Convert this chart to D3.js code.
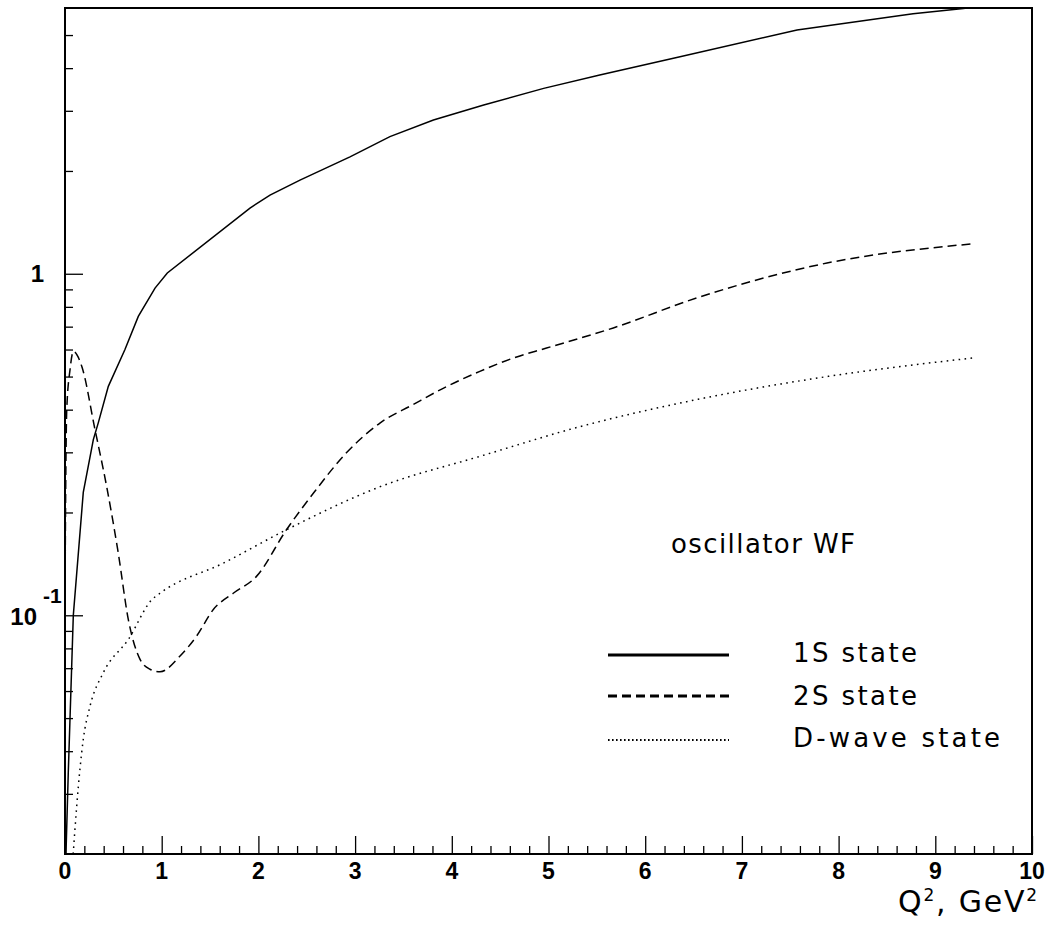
<!DOCTYPE html>
<html>
<head>
<meta charset="utf-8">
<script src="https://cdn.jsdelivr.net/npm/d3@7/dist/d3.min.js"></script>
<style>
  html, body { margin: 0; padding: 0; background: #fff; }
  svg { display: block; }
</style>
</head>
<body>
<svg id="chart" width="1050" height="930"></svg>
<script>
// Form factors vs Q^2 (GeV^2) for oscillator wave functions
const q2_1S  = [0.0, 0.01, 0.034, 0.086, 0.189, 0.293, 0.344, 0.448, 0.62, 0.758, 0.931, 1.058,
                1.913, 2.12, 2.43, 2.947, 3.36, 3.81, 4.33, 4.95, 5.53, 6.36, 7.57, 8.77, 9.29, 9.4];
const ff_1S  = [0.012, 0.02, 0.0347, 0.1, 0.229, 0.327, 0.366, 0.468, 0.6, 0.75, 0.908, 1.005,
                1.557, 1.70, 1.88, 2.20, 2.52, 2.82, 3.12, 3.49, 3.82, 4.32, 5.17, 5.77, 5.98, 6.04];

const q2_2S  = [0.0, 0.008, 0.018, 0.052, 0.086, 0.173, 0.31, 0.431, 0.551, 0.655, 0.776, 0.879, 0.982,
                1.19, 1.362, 1.534, 1.74, 1.98, 2.29, 2.57, 2.91, 3.26, 3.6, 3.95, 4.29, 4.64, 4.98,
                5.67, 6.53, 7.88, 9.39];
const ff_2S  = [0.11, 0.25, 0.40, 0.524, 0.592, 0.536, 0.35, 0.238, 0.152, 0.0971, 0.0743, 0.0695, 0.0683,
                0.076, 0.087, 0.104, 0.116, 0.130, 0.178, 0.228, 0.299, 0.366, 0.414, 0.468, 0.518, 0.567, 0.606,
                0.694, 0.849, 1.075, 1.224];

const q2_D   = [0.085, 0.121, 0.189, 0.259, 0.396, 0.655, 0.897, 0.982, 1.634, 2.29, 3.26, 4.29, 5.33,
                6.53, 7.88, 9.39];
const ff_D   = [0.02, 0.0276, 0.0433, 0.0542, 0.0679, 0.085, 0.111, 0.116, 0.142, 0.178, 0.238, 0.292, 0.357,
                0.428, 0.50, 0.567];

const xMajorTicks = d3.range(0, 11);
const xMinorTicks = d3.range(0, 50).map(i => i * 0.2).filter(v => Math.abs(v - Math.round(v)) > 1e-6);
const yMajorTicks = [0.1, 1];
const yMinorTicks = [0.03, 0.04, 0.05, 0.06, 0.07, 0.08, 0.09, 0.2, 0.3, 0.4, 0.5, 0.6, 0.7, 0.8, 0.9, 2, 3, 4, 5];

const legendTitle = "oscillator WF";
const seriesNames = ["1S state", "2S state", "D-wave state"];
const axisTitle = ["Q", "2", ", GeV", "2"];

const plot = { left: 65, right: 1032, top: 8, bottom: 854 };

const svg = d3.select("#chart");

const x = d3.scaleLinear().domain([0, 10]).range([plot.left, plot.right]);
const y = d3.scaleLog().domain([0.02, 6]).range([plot.bottom, plot.top]);

svg.append("defs").append("clipPath").attr("id", "plotClip")
  .append("rect")
  .attr("x", plot.left).attr("y", plot.top)
  .attr("width", plot.right - plot.left).attr("height", plot.bottom - plot.top);

// curves
const series = [
  { xs: q2_1S, ys: ff_1S, dash: null, curve: d3.curveLinear },
  { xs: q2_2S, ys: ff_2S, dash: "9,5", curve: d3.curveMonotoneX },
  { xs: q2_D,  ys: ff_D,  dash: "1.6,4.4", curve: d3.curveMonotoneX }
];

const curveLayer = svg.append("g").attr("clip-path", "url(#plotClip)");
series.forEach(s => {
  const pts = s.xs.map((v, i) => [v, s.ys[i]]);
  const line = d3.line().x(d => x(d[0])).y(d => y(d[1])).curve(s.curve);
  curveLayer.append("path")
    .attr("d", line(pts))
    .attr("fill", "none")
    .attr("stroke", "#000")
    .attr("stroke-width", 1.5)
    .attr("stroke-dasharray", s.dash);
});

// axes: ticks point inward
const gx = svg.append("g").attr("transform", `translate(0,${plot.bottom})`);
gx.call(d3.axisBottom(x).tickValues(xMajorTicks).tickSize(-18).tickFormat(""));
gx.append("g").call(d3.axisBottom(x).tickValues(xMinorTicks).tickSize(-8).tickFormat(""));
gx.selectAll(".domain").remove();

const gy = svg.append("g").attr("transform", `translate(${plot.left},0)`);
gy.call(d3.axisLeft(y).tickValues(yMajorTicks).tickSize(-18).tickFormat(""));
gy.append("g").call(d3.axisLeft(y).tickValues(yMinorTicks).tickSize(-8).tickFormat(""));
gy.selectAll(".domain").remove();
svg.selectAll(".tick line").attr("stroke", "#000").attr("stroke-width", 1.3);

// frame
svg.append("rect")
  .attr("x", plot.left).attr("y", plot.top)
  .attr("width", plot.right - plot.left).attr("height", plot.bottom - plot.top)
  .attr("fill", "none").attr("stroke", "#000").attr("stroke-width", 2);

// tick labels
const tickFont = "'Liberation Sans', Arial, Helvetica, sans-serif";
svg.append("g").selectAll("text").data(xMajorTicks).join("text")
  .attr("x", d => x(d)).attr("y", 879)
  .attr("text-anchor", "middle")
  .attr("font-family", tickFont).attr("font-weight", "bold").attr("font-size", 23)
  .text(d => d);

svg.append("text")
  .attr("x", 44).attr("y", y(1) + 8.5)
  .attr("text-anchor", "end")
  .attr("font-family", tickFont).attr("font-weight", "bold").attr("font-size", 24)
  .text("1");
svg.append("text")
  .attr("x", 37).attr("y", y(0.1) + 9.5)
  .attr("text-anchor", "end")
  .attr("font-family", tickFont).attr("font-weight", "bold").attr("font-size", 24)
  .text("10");
svg.append("text")
  .attr("x", 43).attr("y", y(0.1) - 12)
  .attr("text-anchor", "start")
  .attr("font-family", tickFont).attr("font-weight", "bold").attr("font-size", 21)
  .text("-1");

// axis title
const labelFont = "'DejaVu Sans', Verdana, sans-serif";
const title = svg.append("text")
  .attr("x", 898).attr("y", 912)
  .attr("font-family", labelFont).attr("font-size", 30)
  .attr("letter-spacing", 1.8);
title.append("tspan").text(axisTitle[0]);
title.append("tspan").attr("font-size", 17).attr("dy", -11).text(axisTitle[1]);
title.append("tspan").attr("dy", 11).text(axisTitle[2]);
title.append("tspan").attr("font-size", 17).attr("dy", -11).text(axisTitle[3]);

// legend
svg.append("text")
  .attr("x", 671).attr("y", 553)
  .attr("font-family", labelFont).attr("font-size", 26)
  .attr("textLength", 184).attr("lengthAdjust", "spacing")
  .text(legendTitle);

const legendRows = [
  { y: 655, dash: null, width: 3, textY: 662, len: 124 },
  { y: 696, dash: "9,5", width: 3, textY: 705, len: 124 },
  { y: 740, dash: "1.6,2.4", width: 2, textY: 747, len: 207 }
];
legendRows.forEach((r, i) => {
  svg.append("line")
    .attr("x1", 608).attr("x2", 729).attr("y1", r.y).attr("y2", r.y)
    .attr("stroke", "#000").attr("stroke-width", r.width)
    .attr("stroke-dasharray", r.dash);
  svg.append("text")
    .attr("x", 793).attr("y", r.textY)
    .attr("font-family", labelFont).attr("font-size", 26)
    .attr("textLength", r.len).attr("lengthAdjust", "spacing")
    .text(seriesNames[i]);
});
</script>
</body>
</html>
